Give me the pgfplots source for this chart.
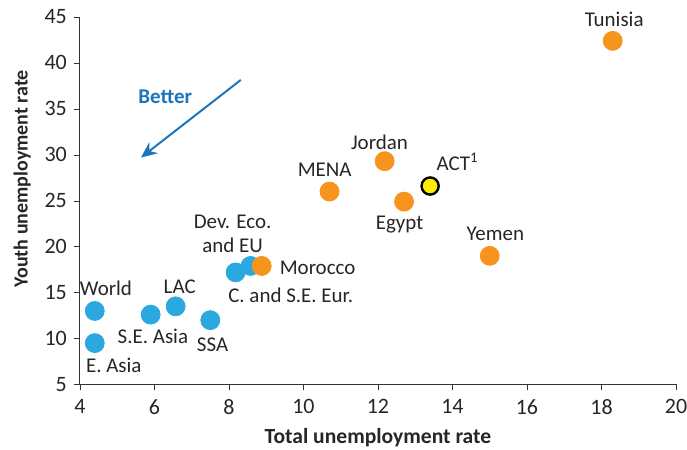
\documentclass[border=0pt]{standalone}
\usepackage{pgfplots}
\pgfplotsset{compat=1.18}
\usetikzlibrary{arrows.meta}
\usepackage{fontspec}
\setmainfont{Carlito}
\definecolor{dotblue}{HTML}{2CA8E0}
\definecolor{dotorange}{HTML}{F7941D}
\definecolor{dotyellow}{HTML}{FFEC00}
\definecolor{arrowblue}{HTML}{1B75BC}
\begin{document}
\begin{tikzpicture}
\begin{axis}[
  scale only axis,
  width=298.5pt, height=184pt,
  xmin=4, xmax=20, ymin=5, ymax=45,
  xtick={4,6,...,20}, ytick={5,10,...,45},
  axis x line*=bottom, axis y line*=left,
  axis line style={-, draw=black!80},
  tick align=outside, tick style={draw=black!80, major tick length=3pt},
  tick label style={font=\fontsize{11}{13}\selectfont, text=black!85},
  xticklabel style={yshift=-1pt},
  /pgf/number format/assume math mode=true,
  xlabel={\textbf{Total unemployment rate}},
  ylabel={\textbf{Youth unemployment rate}},
  xlabel style={font=\fontsize{10.8}{12}\selectfont, text=black!85},
  ylabel style={font=\fontsize{10}{12}\selectfont, text=black!85, xshift=11pt},
  clip=false,
]
% regions
\addplot[only marks, mark=*, mark size=4.75pt, color=dotblue]
  coordinates {(4.4,13.0) (4.4,9.5) (5.9,12.6) (6.57,13.5) (7.5,12.0) (8.18,17.2) (8.58,17.9)};
% countries
\addplot[only marks, mark=*, mark size=4.75pt, color=dotorange]
  coordinates {(8.88,17.9) (10.7,26.0) (12.18,29.3) (12.7,24.9) (15.0,19.0) (18.3,42.4)};
% ACT
\addplot[only marks, mark=*, mark size=4.3pt, mark options={draw=black, line width=1.2pt, fill=dotyellow}]
  coordinates {(13.4,26.6)};
\draw[-{Stealth[length=8pt,width=7pt]}, arrowblue, line width=1pt] (axis cs:8.32,38.15) -- (axis cs:5.64,29.7);
\node[text=arrowblue, font=\fontsize{10.5}{12}\selectfont\bfseries] at (axis cs:6.29,36.3) {Better};
\begin{scope}[every node/.style={font=\fontsize{10.5}{12}\selectfont, text=black!85}]
\node at (axis cs:4.70,15.5) {World};
\node at (axis cs:4.91,7.1) {E. Asia};
\node at (axis cs:5.96,10.2) {S.E. Asia};
\node at (axis cs:6.68,15.6) {LAC};
\node at (axis cs:7.56,9.35) {SSA};
\node[align=center] at (axis cs:8.10,21.4) {Dev. Eco.\\and EU};
\node at (axis cs:10.38,17.7) {Morocco};
\node at (axis cs:9.66,14.7) {C. and S.E. Eur.};
\node at (axis cs:10.57,28.4) {MENA};
\node at (axis cs:12.04,31.4) {Jordan};
\node at (axis cs:14.14,29.2) {ACT\textsuperscript{1}};
\node at (axis cs:12.58,22.4) {Egypt};
\node at (axis cs:15.15,21.4) {Yemen};
\node at (axis cs:18.34,44.7) {Tunisia};
\end{scope}
\end{axis}
\pgfresetboundingbox
\useasboundingbox (-40pt,-32.5pt) rectangle (304pt,192.5pt);
\end{tikzpicture}
\end{document}
